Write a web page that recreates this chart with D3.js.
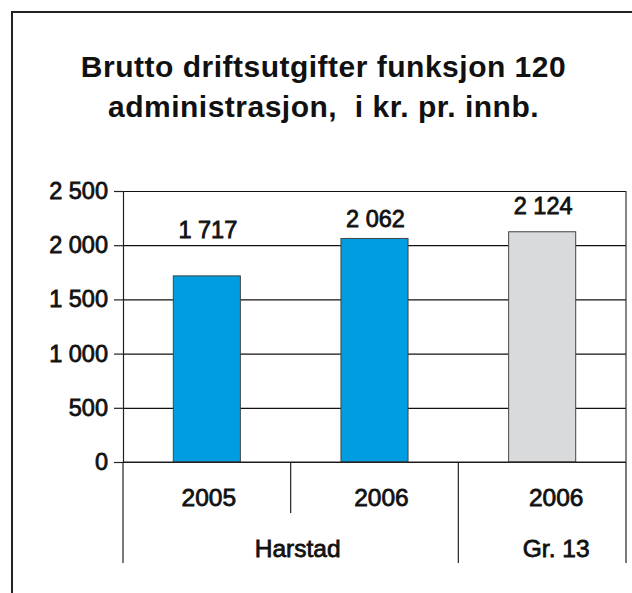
<!DOCTYPE html>
<html>
<head>
<meta charset="utf-8">
<script src="https://d3js.org/d3.v7.min.js"></script>
<style>
  body { margin: 0; background: #fff; }
  svg text { font-family: "Liberation Sans", Arial, sans-serif; fill: #111; white-space: pre; }
</style>
</head>
<body>
<svg id="chart" width="632" height="593"></svg>
<script>
// data
const titleLines = ['Brutto driftsutgifter funksjon 120', 'administrasjon,  i kr. pr. innb.'];
const years = ['2005', '2006', '2006'];
const groups = ['Harstad', 'Harstad', 'Gr. 13'];
const values = [1717, 2062, 2124];
const barColors = ['#009ee0', '#009ee0', '#d9dadc'];
const yTicks = [0, 500, 1000, 1500, 2000, 2500];

// layout
const plot = { left: 123, right: 626, top: 191, bottom: 462 };
const labelLift = [38, 11, 18];   // value labels sit at different heights in the original
const catDx = [2, 7, 14];

const fmt = d3.formatLocale({ decimal: ',', thousands: ' ', grouping: [3], currency: ['', ' kr'] }).format(',d');

const svg = d3.select('#chart');

// outer frame (cut off on the right and bottom)
svg.append('rect')
  .attr('x', 12).attr('y', 12)
  .attr('width', 900).attr('height', 900)
  .attr('fill', 'none')
  .attr('stroke', '#222')
  .attr('stroke-width', 2);

// title
svg.append('g').selectAll('text')
  .data(titleLines)
  .join('text')
  .attr('x', 323.5)
  .attr('y', (d, i) => 77 + i * 40)
  .attr('text-anchor', 'middle')
  .style('font-size', '30px')
  .style('font-weight', 'bold')
  .style('letter-spacing', '0.5px')
  .text(d => d);

const y = d3.scaleLinear().domain([0, 2500]).range([plot.bottom, plot.top]);
const x = d3.scaleBand()
  .domain(d3.range(values.length))
  .range([plot.left, plot.right])
  .paddingInner(0.6)
  .paddingOuter(0.3);

const edge = i => x(i) + x.bandwidth() / 2 - x.step() / 2;

// gridlines
svg.append('g')
  .attr('transform', `translate(${plot.left},0)`)
  .call(d3.axisLeft(y).tickValues(yTicks).tickSize(-(plot.right - plot.left)).tickFormat(''))
  .call(g => g.select('.domain').remove())
  .call(g => g.selectAll('line').attr('stroke', '#111').attr('stroke-width', 1.2));

// right border of plot
svg.append('line')
  .attr('x1', plot.right).attr('x2', plot.right)
  .attr('y1', plot.top).attr('y2', plot.bottom)
  .attr('stroke', '#333').attr('stroke-width', 1.2);

// bars
svg.append('g').selectAll('rect')
  .data(values)
  .join('rect')
  .attr('x', (d, i) => x(i))
  .attr('y', d => y(d))
  .attr('width', x.bandwidth())
  .attr('height', d => y(0) - y(d))
  .attr('fill', (d, i) => barColors[i])
  .attr('stroke', '#444')
  .attr('stroke-width', 1);

const heavy = sel => sel.style('stroke', '#111').style('stroke-width', '0.8px');

// value labels
svg.append('g').selectAll('text')
  .data(values)
  .join('text')
  .attr('x', (d, i) => x(i) + x.bandwidth() / 2 + 1)
  .attr('y', (d, i) => y(d) - labelLift[i])
  .attr('text-anchor', 'middle')
  .style('font-size', '23.5px')
  .call(heavy)
  .text(d => fmt(d));

// y axis
svg.append('g')
  .attr('transform', `translate(${plot.left},0)`)
  .call(d3.axisLeft(y).tickValues(yTicks).tickSize(9).tickPadding(6).tickFormat(fmt))
  .call(g => g.select('.domain').attr('stroke', '#222').attr('stroke-width', 1.2))
  .call(g => g.selectAll('.tick line').attr('stroke', '#222').attr('stroke-width', 1.2))
  .call(g => g.selectAll('.tick text')
    .style('font-family', '"Liberation Sans", Arial, sans-serif')
    .style('font-size', '23.5px')
    .style('fill', '#111')
    .call(heavy));

// x axis line
svg.append('line')
  .attr('x1', plot.left).attr('x2', plot.right)
  .attr('y1', plot.bottom).attr('y2', plot.bottom)
  .attr('stroke', '#222').attr('stroke-width', 1.2);

// category separators: tall ones between groups, short one inside a group
const sepData = d3.range(values.length + 1).map(i => {
  const xe = i < values.length ? edge(i) : plot.right;
  const groupBreak = i === 0 || i === values.length || groups[i] !== groups[i - 1];
  return { x: xe, y2: groupBreak ? 563 : 513 };
});
svg.append('g').selectAll('line')
  .data(sepData)
  .join('line')
  .attr('x1', d => d.x).attr('x2', d => d.x)
  .attr('y1', plot.bottom).attr('y2', d => d.y2)
  .attr('stroke', '#222').attr('stroke-width', 1.2);

// year labels
svg.append('g').selectAll('text')
  .data(years)
  .join('text')
  .attr('x', (d, i) => x(i) + x.bandwidth() / 2 + catDx[i])
  .attr('y', 506)
  .attr('text-anchor', 'middle')
  .style('font-size', '24.5px')
  .call(heavy)
  .text(d => d);

// group labels
const groupNames = Array.from(new Set(groups));
const groupData = groupNames.map(g => {
  const idx = groups.map((v, i) => v === g ? i : -1).filter(i => i >= 0);
  const lo = edge(idx[0]);
  const hi = idx[idx.length - 1] + 1 < values.length ? edge(idx[idx.length - 1] + 1) : plot.right;
  return { name: g, cx: (lo + hi) / 2, dx: catDx[idx[idx.length - 1]] };
});
svg.append('g').selectAll('text')
  .data(groupData)
  .join('text')
  .attr('x', d => d.cx + d.dx)
  .attr('y', 557)
  .attr('text-anchor', 'middle')
  .style('font-size', '24.5px')
  .call(heavy)
  .text(d => d.name);
</script>
</body>
</html>
